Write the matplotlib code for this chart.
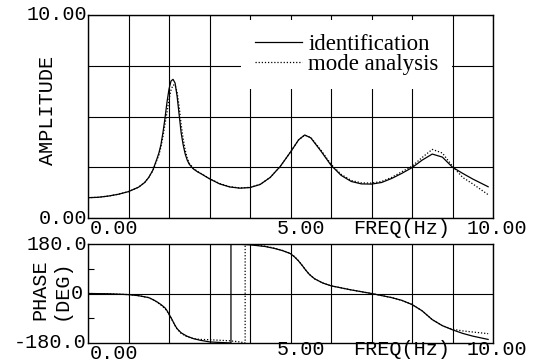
import matplotlib

matplotlib.use("Agg")
import matplotlib.pyplot as plt  # noqa: E402
import matplotlib.transforms as mtransforms  # noqa: E402

# --- amplitude ---
freq_amp = [0.0, 0.25, 0.5, 0.75, 1.0, 1.25, 1.4, 1.5, 1.6, 1.7, 1.75, 1.8, 1.85, 1.9,
            1.95, 2.0, 2.05, 2.1, 2.15, 2.2, 2.25, 2.3, 2.35, 2.4, 2.45, 2.5, 2.6, 2.7,
            2.8, 3.0, 3.25, 3.5, 3.75, 4.0, 4.25, 4.5, 4.75, 5.0, 5.2, 5.35, 5.5, 5.75,
            6.0, 6.25, 6.5, 6.75, 7.0, 7.25, 7.5, 7.75, 8.0, 8.25, 8.5, 8.75, 9.0, 9.25,
            9.5, 9.88]
amp_ident = [1.00, 1.02, 1.08, 1.17, 1.30, 1.52, 1.75, 2.0, 2.35, 2.9, 3.2, 3.6, 4.2, 4.9,
             5.7, 6.35, 6.75, 6.83, 6.65, 6.0, 5.1, 4.2, 3.6, 3.15, 2.85, 2.65, 2.42, 2.28,
             2.17, 1.93, 1.68, 1.53, 1.47, 1.5, 1.65, 2.0, 2.55, 3.25, 3.85, 4.09, 3.95, 3.3,
             2.6, 2.1, 1.8, 1.68, 1.67, 1.75, 1.95, 2.2, 2.48, 2.85, 3.15, 3.0, 2.5, 2.2,
             1.92, 1.54]
amp_mode = [1.00, 1.02, 1.08, 1.17, 1.30, 1.52, 1.75, 2.0, 2.33, 2.85, 3.1, 3.5, 4.0, 4.6,
            5.2, 5.85, 6.3, 6.55, 6.55, 6.2, 5.5, 4.6, 3.9, 3.35, 2.95, 2.7, 2.45, 2.3,
            2.18, 1.94, 1.7, 1.54, 1.48, 1.51, 1.66, 2.0, 2.55, 3.25, 3.85, 4.08, 3.97, 3.35,
            2.65, 2.15, 1.85, 1.73, 1.72, 1.8, 2.0, 2.28, 2.55, 2.98, 3.38, 3.2, 2.55, 2.0,
            1.68, 1.15]

# --- phase [deg], wrapped at +-180 ---
freq_ph_ident = [0.0, 0.5, 1.0, 1.25, 1.5, 1.6, 1.7, 1.8, 1.9, 1.95, 2.0, 2.05, 2.1, 2.15,
                 2.2, 2.3, 2.44, 2.6, 2.77, 3.0, 3.25, 3.53, 3.53, 3.75, 4.0, 4.37, 4.6,
                 4.8, 5.0, 5.1, 5.2, 5.3, 5.36, 5.45, 5.5, 5.6, 5.8, 6.0, 6.5, 7.0, 7.5,
                 7.75, 8.0, 8.25, 8.5, 8.75, 9.0, 9.25, 9.5, 9.88]
phase_ident = [0, -1, -4, -8, -15, -22, -30, -40, -52, -62, -75, -88, -102, -116,
               -128, -143, -155, -164, -170, -176, -178, -180, 180, 179, 177, 171, 164,
               156, 145, 133, 118, 100, 88, 72, 65, 53, 38, 28, 13, 0, -15,
               -25, -40, -63, -95, -117, -132, -145, -155, -167]
freq_ph_mode = [0.0, 0.5, 1.0, 1.25, 1.5, 1.6, 1.7, 1.8, 1.9, 1.95, 2.0, 2.05, 2.1, 2.15,
                2.2, 2.3, 2.44, 2.6, 2.77, 3.0, 3.25, 3.5, 3.75, 3.88, 3.88, 4.0, 4.37,
                4.6, 4.8, 5.0, 5.1, 5.2, 5.3, 5.36, 5.45, 5.5, 5.6, 5.8, 6.0, 6.5, 7.0,
                7.5, 7.75, 8.0, 8.25, 8.5, 8.75, 9.0, 9.25, 9.5, 9.88]
phase_mode = [0, -1, -4, -8, -15, -22, -31, -42, -55, -64, -76, -89, -103, -117,
              -129, -145, -157, -164, -167, -168, -170, -172, -176, -180, 180, 179, 172,
              165, 157, 146, 134, 119, 100, 88, 72, 65, 53, 38, 28, 13, 0,
              -15, -25, -40, -63, -95, -117, -130, -136, -140, -146]

labels = ["identification", "mode analysis"]
MONO = "Liberation Mono"
SERIF = "Liberation Serif"
FS = 14.5

fig = plt.figure(figsize=(5.35, 3.64), dpi=100)
ax1 = fig.add_axes([88 / 535, 146 / 364, 405 / 535, 203 / 364])
ax2 = fig.add_axes([88 / 535, 21 / 364, 405 / 535, 99 / 364])

for ax in (ax1, ax2):
    ax.set_xlim(0, 10)
    ax.set_xticks(range(11))
    ax.tick_params(axis="x", length=0, labelbottom=False)
    ax.grid(True, axis="x", color="black", linewidth=0.8)
    for sp in ax.spines.values():
        sp.set_linewidth(1.0)

# amplitude panel
ax1.set_ylim(0, 10)
ax1.set_yticks([0, 2.5, 5, 7.5, 10])
ax1.tick_params(axis="y", length=0, labelleft=False)
ax1.grid(True, axis="y", color="black", linewidth=0.8)
ax1.plot(freq_amp, amp_ident, color="black", linewidth=0.9, label=labels[0])
ax1.plot(freq_amp, amp_mode, color="black", linewidth=0.9,
         linestyle=(0, (1, 1.5)), label=labels[1])
leg = ax1.legend(loc="upper left", bbox_to_anchor=((241 - 88) / 405, (218 - 20) / 203),
                 borderaxespad=0, prop={"family": SERIF, "size": 16.5}, handlelength=2.05,
                 handletextpad=0.28, labelspacing=-0.04, borderpad=0.6,
                 frameon=True, fancybox=False, framealpha=1, edgecolor="white")
leg.get_frame().set_linewidth(0)

# phase panel
ax2.set_ylim(-180, 180)
ax2.set_yticks([-90, 90])
ax2.tick_params(axis="y", direction="in", length=4, width=0.8, labelleft=False)
ax2.axhline(0, color="black", linewidth=0.8)
ax2.plot(freq_ph_ident, phase_ident, color="black", linewidth=0.9)
ax2.plot(freq_ph_mode, phase_mode, color="black", linewidth=0.9, linestyle=(0, (1, 1.5)))


# text labels (typewriter style)
def ylab(ax, y, s, x=-0.0025):
    tr = mtransforms.blended_transform_factory(ax.transAxes, ax.transData)
    ax.text(x, y, s, transform=tr, ha="right", va="center", family=MONO, fontsize=FS)


def xlabs(ax, y_zero, y_rest):
    tr = mtransforms.blended_transform_factory(ax.transData, ax.transAxes)
    ax.text(0.05, y_zero, "0.00", transform=tr, ha="left", va="center", family=MONO, fontsize=FS)
    ax.text(4.67, y_rest, "5.00", transform=tr, ha="left", va="center", family=MONO, fontsize=FS)
    ax.text(6.54, y_rest, "FREQ(Hz)", transform=tr, ha="left", va="center", family=MONO, fontsize=FS)
    ax.text(9.36, y_rest, "10.00", transform=tr, ha="left", va="center", family=MONO, fontsize=FS)


ylab(ax1, 10, "10.00")
ylab(ax1, 0, "0.00")
xlabs(ax1, -0.054, -0.054)
ax1.text(-0.099, 0.532, "AMPLITUDE", transform=ax1.transAxes, rotation=90,
         ha="center", va="center", family=MONO, fontsize=FS)

ylab(ax2, 180, "180.0")
ylab(ax2, 0, "0", x=-0.012)
ylab(ax2, -180, "-180.0")
xlabs(ax2, -0.111, -0.065)
ax2.text(-0.1185, 0.535, "PHASE", transform=ax2.transAxes, rotation=90,
         ha="center", va="center", family=MONO, fontsize=FS)
ax2.text(-0.0667, 0.535, "(DEG)", transform=ax2.transAxes, rotation=90,
         ha="center", va="center", family=MONO, fontsize=FS)

fig.savefig("out.png", dpi=100)
plt.close(fig)
